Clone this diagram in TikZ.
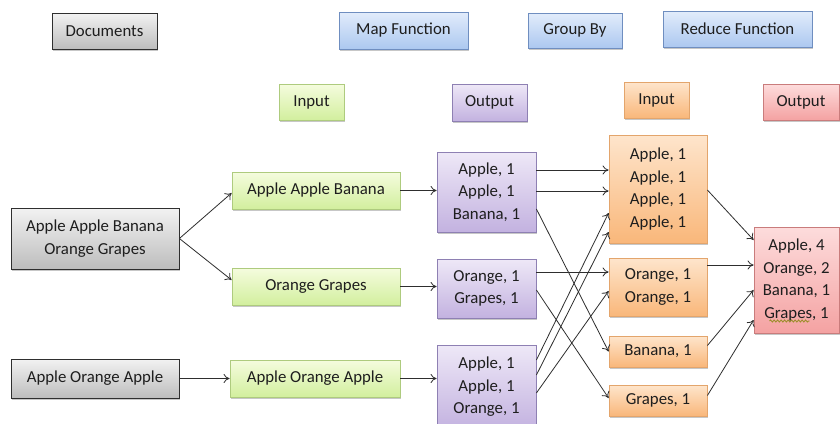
\documentclass[tikz,border=0pt]{standalone}
\usepackage{fontspec}
\setmainfont{Carlito}
\usetikzlibrary{shadows,arrows.meta,decorations.pathmorphing}

\definecolor{txt}{HTML}{1E1E1E}
\definecolor{lnk}{HTML}{2E2E2E}
\definecolor{grayT}{HTML}{F2F2F2}\definecolor{grayB}{HTML}{BDBDBD}\definecolor{grayD}{HTML}{2F2F2F}
\definecolor{blueT}{HTML}{E2ECFB}\definecolor{blueB}{HTML}{ACC8F0}\definecolor{blueD}{HTML}{6F8EC0}
\definecolor{greenT}{HTML}{F5FCDE}\definecolor{greenB}{HTML}{D2EF9E}\definecolor{greenD}{HTML}{AECB7E}
\definecolor{purpT}{HTML}{EEE8F7}\definecolor{purpB}{HTML}{C3B2E0}\definecolor{purpD}{HTML}{8E80B3}
\definecolor{oranT}{HTML}{FEE5CC}\definecolor{oranB}{HTML}{F9B77A}\definecolor{oranD}{HTML}{E3A56C}
\definecolor{redT}{HTML}{FDDCDC}\definecolor{redB}{HTML}{F4A2A2}\definecolor{redD}{HTML}{C97C7C}
\definecolor{squig}{HTML}{9C8E2A}

\tikzset{
  box/.style={draw, line width=0.8pt, align=center, inner sep=0pt,
    text=txt, font=\fontsize{16.8}{22.5}\selectfont,
    drop shadow={shadow xshift=1.2pt, shadow yshift=-1.6pt, opacity=0.22, fill=black}},
  graybox/.style={box, draw=grayD, top color=grayT, bottom color=grayB},
  bluebox/.style={box, draw=blueD, top color=blueT, bottom color=blueB},
  greenbox/.style={box, draw=greenD, top color=greenT, bottom color=greenB},
  purplebox/.style={box, draw=purpD, top color=purpT, bottom color=purpB},
  orangebox/.style={box, draw=oranD, top color=oranT, bottom color=oranB},
  redbox/.style={box, draw=redD, top color=redT, bottom color=redB},
  link/.style={draw=lnk, line width=0.8pt, -{To[length=6pt,width=9pt]}},
}

\begin{document}
\begin{tikzpicture}[x=1pt, y=-1pt]
\useasboundingbox[fill=white] (0,0) rectangle (840,423);

% header row
\node[graybox, minimum width=105pt, minimum height=36pt] (docs) at (104.5,31) {Documents};
\node[bluebox, minimum width=129pt, minimum height=37pt] (map) at (403.5,30.5) {Map Function};
\node[bluebox, minimum width=94pt, minimum height=35pt] (grp) at (575,30.5) {Group By};
\node[bluebox, minimum width=149pt, minimum height=36pt] (red) at (737.5,29) {Reduce Function};

% column captions
\node[greenbox, minimum width=65pt, minimum height=36pt] (min) at (311.5,102) {Input};
\node[purplebox, minimum width=75pt, minimum height=37pt] (mout) at (489.5,102.5) {Output};
\node[orangebox, minimum width=65pt, minimum height=36pt] (rin) at (656.5,100) {Input};
\node[redbox, minimum width=76pt, minimum height=36pt] (rout) at (801,102) {Output};

% documents
\node[graybox, minimum width=168pt, minimum height=61pt] (d1) at (95,238.5) {Apple Apple Banana\\Orange Grapes};
\node[graybox, minimum width=168pt, minimum height=39pt] (d2) at (95,378.5) {Apple Orange Apple};

% map inputs
\node[greenbox, minimum width=168pt, minimum height=37pt] (g1) at (316,190.5) {Apple Apple Banana};
\node[greenbox, minimum width=168pt, minimum height=37pt] (g2) at (316,286.5) {Orange Grapes};
\node[greenbox, minimum width=170pt, minimum height=37pt] (g3) at (315,378.5) {Apple Orange Apple};

% map outputs
\node[purplebox, minimum width=99pt, minimum height=80pt] (p1) at (486.5,192) {Apple, 1\\Apple, 1\\Banana, 1};
\node[purplebox, minimum width=99pt, minimum height=59pt] (p2) at (486.5,288.5) {Orange, 1\\Grapes, 1};
\node[purplebox, minimum width=99pt, minimum height=84pt] (p3) at (486.5,387) {Apple, 1\\Apple, 1\\Orange, 1};

% grouped
\node[orangebox, minimum width=98pt, minimum height=108pt] (o1) at (658,189) {Apple, 1\\Apple, 1\\Apple, 1\\Apple, 1};
\node[orangebox, minimum width=98pt, minimum height=58pt] (o2) at (658,287) {Orange, 1\\Orange, 1};
\node[orangebox, minimum width=98pt, minimum height=31pt] (o3) at (658,351.5) {Banana, 1};
\node[orangebox, minimum width=98pt, minimum height=31pt] (o4) at (658,400.5) {Grapes, 1};

% reduced
\node[redbox, minimum width=85pt, minimum height=106pt] (r) at (796.5,280) {Apple, 4\\Orange, 2\\Banana, 1\\Grapes, 1};
% spell-check squiggle under "Grapes"
\draw[squig, line width=0.9pt, decorate, decoration={snake, amplitude=1pt, segment length=3.5pt}]
  ([xshift=-27pt,yshift=-41pt]r.center) -- ([xshift=13pt,yshift=-41pt]r.center);

% splitting documents
\draw[link] (d1.east) -- ([yshift=-2.5pt]g1.west);
\draw[link] (d1.east) -- ([yshift=6.5pt]g2.west);
\draw[link] (d2.east) -- (d2.east -| g3.west);

% map
\draw[link] (g1.east) -- (g1.east -| p1.west);
\draw[link] (g2.east) -- (g2.east -| p2.west);
\draw[link] (g3.east) -- (g3.east -| p3.west);

% shuffle
\draw[link] ([yshift=22pt]p1.east) -- ([yshift=19pt]o1.west);
\draw[link] ([yshift=1pt]p1.east) -- ([yshift=-2pt]o1.west);
\draw[link] ([yshift=-17pt]p1.east) -- (o3.west);
\draw[link] ([yshift=16.5pt]p2.east) -- ([yshift=15pt]o2.west);
\draw[link] ([yshift=-1.5pt]p2.east) -- ([yshift=2.5pt]o4.west);
\draw[link] ([yshift=27pt]p3.east) -- ([yshift=-24pt]o1.west);
\draw[link] ([yshift=12pt]p3.east) -- ([yshift=-43pt]o1.west);
\draw[link] ([yshift=-6pt]p3.east) -- ([yshift=-4pt]o2.west);

% reduce
\draw[link] ([yshift=-1pt]o1.east) -- ([yshift=40pt]r.west);
\draw[link] ([yshift=22pt]o2.east) -- ([yshift=15pt]r.west);
\draw[link] ([yshift=6pt]o3.east) -- ([yshift=-10pt]r.west);
\draw[link] ([yshift=5pt]o4.east) -- ([yshift=-40pt]r.west);
\end{tikzpicture}
\end{document}
